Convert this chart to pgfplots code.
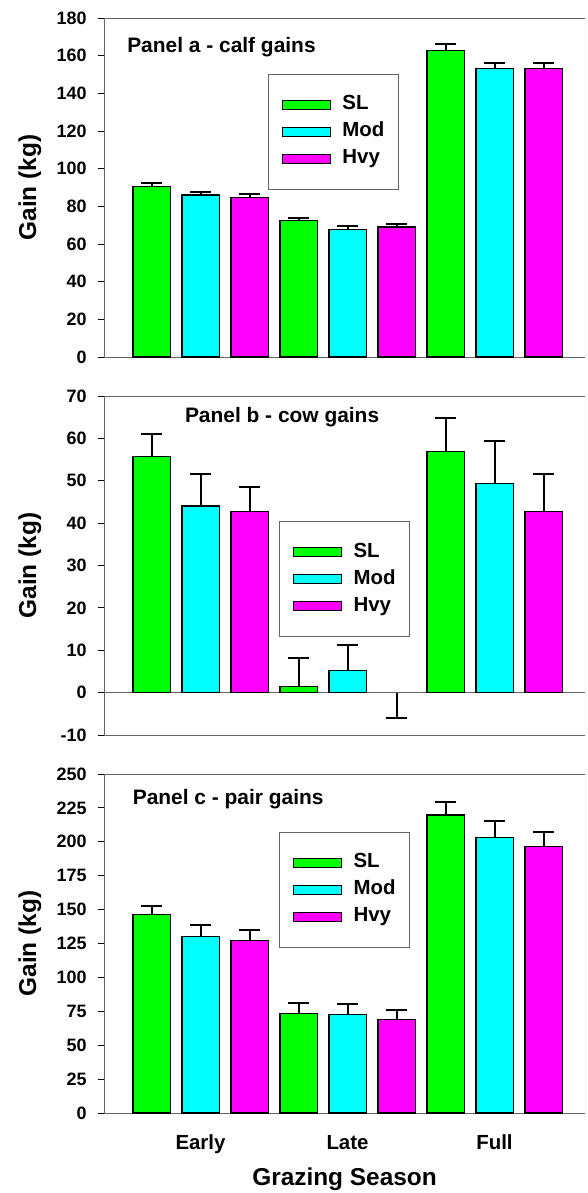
\documentclass[border=0pt]{standalone}
\usepackage{fontspec}
\setmainfont{Liberation Sans}
\usepackage{pgfplots}
\pgfplotsset{compat=1.18}
\definecolor{cSL}{RGB}{0,255,0}
\definecolor{cMod}{RGB}{0,255,255}
\definecolor{cHvy}{RGB}{255,0,255}
\definecolor{axgray}{RGB}{100,100,100}
\pgfplotsset{
  panel/.style={
    scale only axis, width=481bp, height=339bp,
    xmin=0.0306, xmax=9.847,
    axis y line*=left,
    axis line style={draw=axgray, line width=0.9bp},
    ybar, bar width=37.5bp,
    ytick style={black, line width=0.9bp},
    major tick length=6bp, tick align=outside,
    xtick style={draw=none},
    /pgf/number format/assume math mode=true,
    yticklabel style={font=\fontsize{18}{21}\selectfont\bfseries, xshift=-8bp},
    xticklabel style={font=\fontsize{20.5}{24}\selectfont\bfseries},
    ylabel={Gain (kg)},
    ylabel style={at={(axis description cs:-0.154,0.5)}, anchor=center, font=\fontsize{24.5}{28}\selectfont\bfseries},
    legend style={anchor=north west, draw=axgray, line width=0.9bp,
      font=\fontsize{20.5}{24}\selectfont\bfseries, inner xsep=8bp, inner ysep=17bp,
      column sep=0bp, row sep=0bp,
      nodes={text height=15bp, text depth=5bp, inner ysep=3.5bp, inner xsep=6bp}},
    legend cell align=left,
  },
  errstyle/.style={error bars/.cd, y dir=#1, y explicit,
    error bar style={black, solid, line width=2bp},
    error mark options={black, solid, line width=2bp, mark size=10.5bp, rotate=90}},
  mybar/.style={bar shift=0pt, draw=black, line width=1.5bp, fill=#1,
    legend image code/.code={\path[draw=none, fill=none] (-6bp,0bp) -- (54bp,0bp);\draw[fill=#1, draw=black, line width=1.5bp] (0bp,-4.5bp) rectangle (48bp,4.5bp);},
    errstyle=plus},
}
\begin{document}
\begin{tikzpicture}
\useasboundingbox (0,0) rectangle (588bp,-1193bp);
% Panel a
\begin{axis}[panel, at={(104bp,-357bp)}, anchor=south west,
  ymin=0, ymax=180, ytick={0,20,...,180}, xtick=\empty,
  legend style={at={(0.341,0.835)}}]
\addplot[mybar=cSL] coordinates {(1,90.5) +- (0,2.1) (4,72.4) +- (0,1.2) (7,162.7) +- (0,3.4)};
\addplot[mybar=cMod] coordinates {(2,85.9) +- (0,1.6) (5,67.6) +- (0,2.0) (8,153.1) +- (0,3.2)};
\addplot[mybar=cHvy] coordinates {(3,84.6) +- (0,2.0) (6,68.9) +- (0,1.6) (9,153.1) +- (0,3.2)};
\legend{SL,Mod,Hvy}
\draw[gray!45, line width=0.9bp] (rel axis cs:1,0) -- (rel axis cs:1,1);
\node[anchor=base west, inner sep=0pt, font=\fontsize{21}{24}\selectfont\bfseries] at (rel axis cs:0.048,0.897) {Panel a - calf gains};
\end{axis}
% Panel b
\begin{axis}[panel, at={(104bp,-735bp)}, anchor=south west,
  ymin=-10, ymax=70, ytick={-10,0,...,70}, xtick=\empty,
  extra y ticks={0}, extra y tick labels={},
  extra y tick style={grid=major, major grid style={draw=axgray, line width=0.9bp}},
  legend style={at={(0.364,0.631)}}]
\addplot[mybar=cSL] coordinates {(1,55.7) +- (0,5.3) (4,1.4) +- (0,6.7) (7,56.9) +- (0,8.0)};
\addplot[mybar=cMod] coordinates {(2,44.1) +- (0,7.4) (5,5.2) +- (0,6.0) (8,49.3) +- (0,10.0)};
\addplot[mybar=cHvy] coordinates {(3,42.7) +- (0,5.9) (9,42.7) +- (0,8.8)};
\addplot[forget plot, bar shift=0pt, draw=none, fill=none, errstyle=minus]
  coordinates {(6,0) +- (0,5.9)};
\legend{SL,Mod,Hvy}
\draw[gray!45, line width=0.9bp] (rel axis cs:1,0) -- (rel axis cs:1,1);
\node[anchor=base west, inner sep=0pt, font=\fontsize{21}{24}\selectfont\bfseries] at (rel axis cs:0.168,0.921) {Panel b - cow gains};
\end{axis}
% Panel c
\begin{axis}[panel, at={(104bp,-1113bp)}, anchor=south west,
  ymin=0, ymax=250, ytick={0,25,...,250},
  xtick={2,5,8}, xticklabels={Early,Late,Full},
  xticklabel style={anchor=base, yshift=-30bp},
  xlabel={Grazing Season},
  xlabel style={at={(axis description cs:0.5,0)}, anchor=base, yshift=-72bp, font=\fontsize{24.5}{28}\selectfont\bfseries},
  legend style={at={(0.364,0.829)}}]
\addplot[mybar=cSL] coordinates {(1,146.4) +- (0,6.4) (4,73.4) +- (0,7.7) (7,219.9) +- (0,9.8)};
\addplot[mybar=cMod] coordinates {(2,130.2) +- (0,8.6) (5,72.7) +- (0,7.9) (8,203.1) +- (0,12.4)};
\addplot[mybar=cHvy] coordinates {(3,127.4) +- (0,7.2) (6,69.0) +- (0,7.2) (9,196.5) +- (0,11.0)};
\legend{SL,Mod,Hvy}
\draw[gray!70, line width=0.9bp] (rel axis cs:1,0) -- (rel axis cs:1,1);
\node[anchor=base west, inner sep=0pt, font=\fontsize{21}{24}\selectfont\bfseries] at (rel axis cs:0.0596,0.9086) {Panel c - pair gains};
\end{axis}
\end{tikzpicture}
\end{document}
